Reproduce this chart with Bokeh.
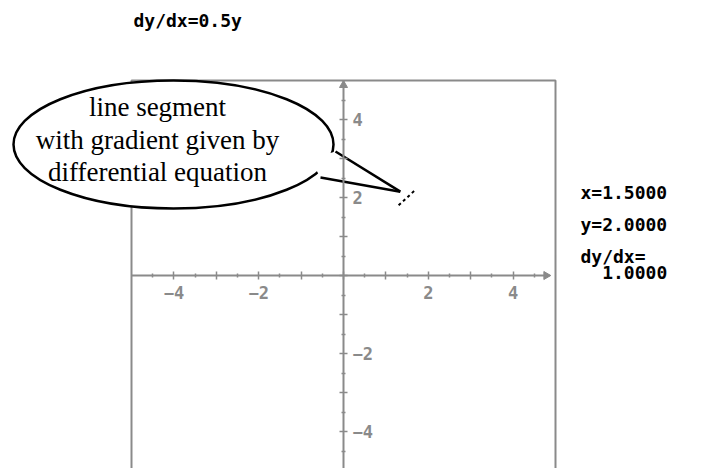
from bokeh.plotting import figure
from bokeh.models import Range1d, LinearAxis, FixedTicker
from bokeh.core.properties import value
from bokeh.embed import file_html
from bokeh.resources import INLINE

# Slope field point: dy/dx = 0.5 * y evaluated at (x0, y0)
k = 0.5
x0 = 1.5
y0 = 2.0
slope = k * y0
half_dx = 0.2

# Axis ticks and their labels
major_ticks = [-4, -3, -2, -1, 0, 1, 2, 3, 4]
minor_ticks = [-4.5, -3.5, -2.5, -1.5, -0.5, 0.5, 1.5, 2.5, 3.5, 4.5]
label_ticks = [-4, -2, 2, 4]
label_texts = ["\u22124", "\u22122", "2", "4"]

# Text read-outs
title_text = "dy/dx=0.5y"
readout_lines = ["x=%.4f" % x0, "y=%.4f" % y0, "dy/dx="]
slope_text = "%.4f" % slope
bubble_lines = ["line segment", "with gradient given by", "differential equation"]

# Screen geometry: pixels per unit and origin position on the page
W, H = 726, 468
SX, SY = 42.4, 39.0
OX, OY = 343.0, 275.0

GRAY = "#8a8a8a"

p = figure(width=W, height=H, output_backend="svg", toolbar_location=None,
           x_range=Range1d(-OX / SX, (W - OX) / SX),
           y_range=Range1d(-(H - OY) / SY, OY / SY),
           x_axis_location=None, y_axis_location=None,
           min_border=0, outline_line_color=None)
p.xgrid.visible = False
p.ygrid.visible = False
p.background_fill_color = "white"
p.border_fill_color = "white"

# Graph window border
p.quad(left=[-5], right=[5], bottom=[-5], top=[5], fill_color=None,
       line_color=GRAY, line_width=2)

overrides = {t: "" for t in major_ticks}
overrides.update(dict(zip(label_ticks, label_texts)))


def style_axis(ax):
    ax.ticker = FixedTicker(ticks=major_ticks, minor_ticks=minor_ticks)
    ax.major_label_overrides = overrides
    ax.axis_line_color = GRAY
    ax.axis_line_width = 2
    ax.major_tick_line_color = GRAY
    ax.major_tick_line_width = 1.5
    ax.major_tick_in = 4
    ax.major_tick_out = 4
    ax.minor_tick_line_color = GRAY
    ax.minor_tick_line_width = 1.5
    ax.minor_tick_in = 2
    ax.minor_tick_out = 2
    ax.major_label_text_color = GRAY
    ax.major_label_text_font = "DejaVu Sans Mono"
    ax.major_label_text_font_style = "bold"
    ax.major_label_text_font_size = "17px"


xaxis = LinearAxis(fixed_location=0, bounds=(-5, 4.85))
style_axis(xaxis)
xaxis.major_label_standoff = 6
p.add_layout(xaxis, "below")

yaxis = LinearAxis(fixed_location=0, bounds=(-5, 5))
style_axis(yaxis)
yaxis.major_label_standoff = 5
p.add_layout(yaxis, "right")

# Arrow heads at the axis ends
p.scatter(x=[4.78], y=[0], marker="triangle", size=8, angle=-1.5708,
          fill_color=GRAY, line_color=GRAY)
p.scatter(x=[0], y=[4.88], marker="triangle", size=8,
          fill_color=GRAY, line_color=GRAY)

# Gradient segment centred on (x0, y0)
p.segment(x0=[x0 - half_dx], y0=[y0 - slope * half_dx],
          x1=[x0 + half_dx], y1=[y0 + slope * half_dx],
          line_color="black", line_width=2, line_dash="3 3")


# Helpers converting page pixels to plot units for the annotations
def px(u):
    return (u - OX) / SX


def py(v):
    return (OY - v) / SY


# Speech bubble pointing at the segment
p.ellipse(x=[px(173)], y=[py(144)], width=[320 / SX], height=[128 / SY],
          fill_color="white", line_color="black", line_width=2.5)
tip = (x0 - 0.16, y0 + 0.15)
tail_a = (px(335), py(151))
tail_b = (px(320), py(177))
p.patch(x=[tail_a[0], tip[0], tail_b[0], px(316), px(318)],
        y=[tail_a[1], tip[1], tail_b[1], py(170), py(156)],
        fill_color="white", line_color=None)
p.line(x=[tail_a[0], tip[0]], y=[tail_a[1], tip[1]], line_color="black", line_width=2.5)
p.line(x=[tail_b[0], tip[0]], y=[tail_b[1], tip[1]], line_color="black", line_width=2.5)

p.text(x=[px(157)] * 3, y=[py(106), py(139), py(171)], text=bubble_lines,
       text_font=value("Liberation Serif"), text_font_size="27px",
       text_color="black", text_align="center", text_baseline="middle")

# Read-outs
mono = dict(text_font=value("DejaVu Sans Mono"), text_font_style="bold",
            text_font_size="18px", text_color="black", text_baseline="middle")
p.text(x=[px(133)], y=[py(20)], text=[title_text], text_align="left", **mono)
p.text(x=[px(580)] * 3, y=[py(192), py(224), py(256)], text=readout_lines,
       text_align="left", **mono)
p.text(x=[px(580 + 8 * 10.84)], y=[py(272)], text=[slope_text],
       text_align="right", **mono)

open("out.html", "w").write(file_html(p, INLINE))
